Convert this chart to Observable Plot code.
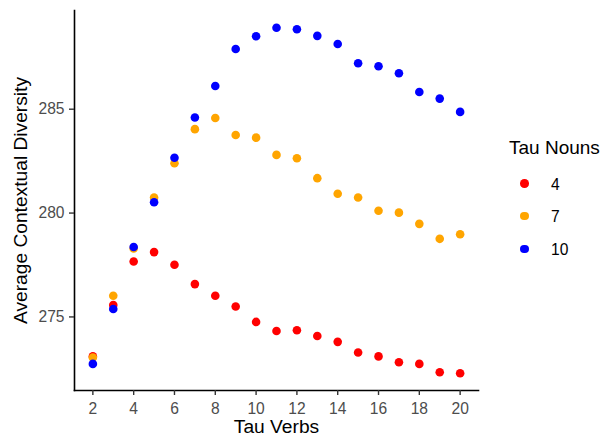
<!DOCTYPE html>
<html>
<head>
<meta charset="utf-8">
<script src="https://cdn.jsdelivr.net/npm/d3@7"></script>
<script src="https://cdn.jsdelivr.net/npm/@observablehq/plot@0.6"></script>
<style>
  html, body { margin: 0; padding: 0; background: white; }
  #wrap { position: relative; width: 608px; height: 437px; font-family: "Liberation Sans", Arial, sans-serif; }
  #legend { position: absolute; left: 509px; top: 138px; }
  #legend .title { font-size: 19px; line-height: 19px; color: #000; white-space: nowrap; }
  #legend .items { position: absolute; left: 0; top: 29px; }
  #legend .item { display: flex; align-items: center; height: 32.8px; font-size: 15.6px; color: #000; }
  #legend .item span.lab { position: relative; top: 1.3px; }
  #legend .sw { width: 8.6px; height: 8.6px; border-radius: 50%; margin-left: 11.4px; margin-right: 22px; flex: none; }
</style>
</head>
<body>
<div id="wrap"></div>
<script>
const tauVerbs = [2,3,4,5,6,7,8,9,10,11,12,13,14,15,16,17,18,19,20];
const nounLevels = [4, 7, 10];
const nounColors = ["red", "orange", "blue"];
const div4  = [273.10,275.57,277.67,278.12,277.51,276.58,276.02,275.50,274.76,274.32,274.36,274.08,273.80,273.29,273.10,272.82,272.74,272.34,272.29];
const div7  = [273.05,276.02,278.30,280.75,282.40,284.04,284.58,283.76,283.63,282.80,282.64,281.68,280.93,280.75,280.11,280.02,279.48,278.76,278.98];
const div10 = [272.74,275.38,278.37,280.52,282.66,284.60,286.12,287.90,288.51,288.92,288.85,288.53,288.14,287.21,287.07,286.73,285.83,285.51,284.87];
const xTicks = [2,4,6,8,10,12,14,16,18,20];
const yTicks = [275, 280, 285];

const series = [div4, div7, div10];
const data = [];
nounLevels.forEach((n, i) => series[i].forEach((v, j) => data.push({verbs: tauVerbs[j], nouns: n, div: v})));

const xExt = d3.extent(tauVerbs), yExt = d3.extent(data, d => d.div);
const xPad = (xExt[1]-xExt[0])*0.05, yPad = (yExt[1]-yExt[0])*0.05;

const chart = Plot.plot({
  width: 608, height: 437,
  marginLeft: 74, marginRight: 130, marginTop: 10, marginBottom: 47,
  style: {fontFamily: '"Liberation Sans", Arial, sans-serif', fontSize: "15.6px", background: "white", overflow: "visible"},
  x: {domain: [xExt[0]-xPad, xExt[1]+xPad]},
  y: {domain: [yExt[0]-yPad, yExt[1]+yPad]},
  color: {domain: nounLevels, range: nounColors},
  marks: [
    Plot.frame({anchor: "left", stroke: "#000", strokeWidth: 1.6}),
    Plot.frame({anchor: "bottom", stroke: "#000", strokeWidth: 1.6}),
    Plot.axisX({ticks: xTicks, tickSize: 5, tickPadding: 7, stroke: "#333", strokeWidth: 1.4, fill: "#4d4d4d", fontSize: 15.6,
      label: "Tau Verbs", labelAnchor: "center", labelArrow: "none", labelOffset: 42.5}),
    Plot.axisY({ticks: yTicks, tickSize: 5, tickPadding: 5, stroke: "#333", strokeWidth: 1.4, fill: "#4d4d4d", fontSize: 15.6,
      label: "Average Contextual Diversity", labelAnchor: "center", labelArrow: "none", labelOffset: 61}),
    Plot.dot(data, {x: "verbs", y: "div", fill: d => d.nouns, r: 4.3, stroke: null})
  ]
});
chart.querySelectorAll('[aria-label="x-axis label"] text, [aria-label="y-axis label"] text').forEach(t => {
  t.setAttribute("fill", "#000"); t.style.fontSize = "19.2px";
});
const wrap = document.getElementById("wrap");
wrap.appendChild(chart);

const legend = document.createElement("div");
legend.id = "legend";
legend.innerHTML = `<div class="title">Tau Nouns</div><div class="items">` +
  nounLevels.map((n, i) => `<div class="item"><span class="sw" style="background:${nounColors[i]}"></span><span class="lab">${n}</span></div>`).join("") +
  `</div>`;
wrap.appendChild(legend);
</script>
</body>
</html>
